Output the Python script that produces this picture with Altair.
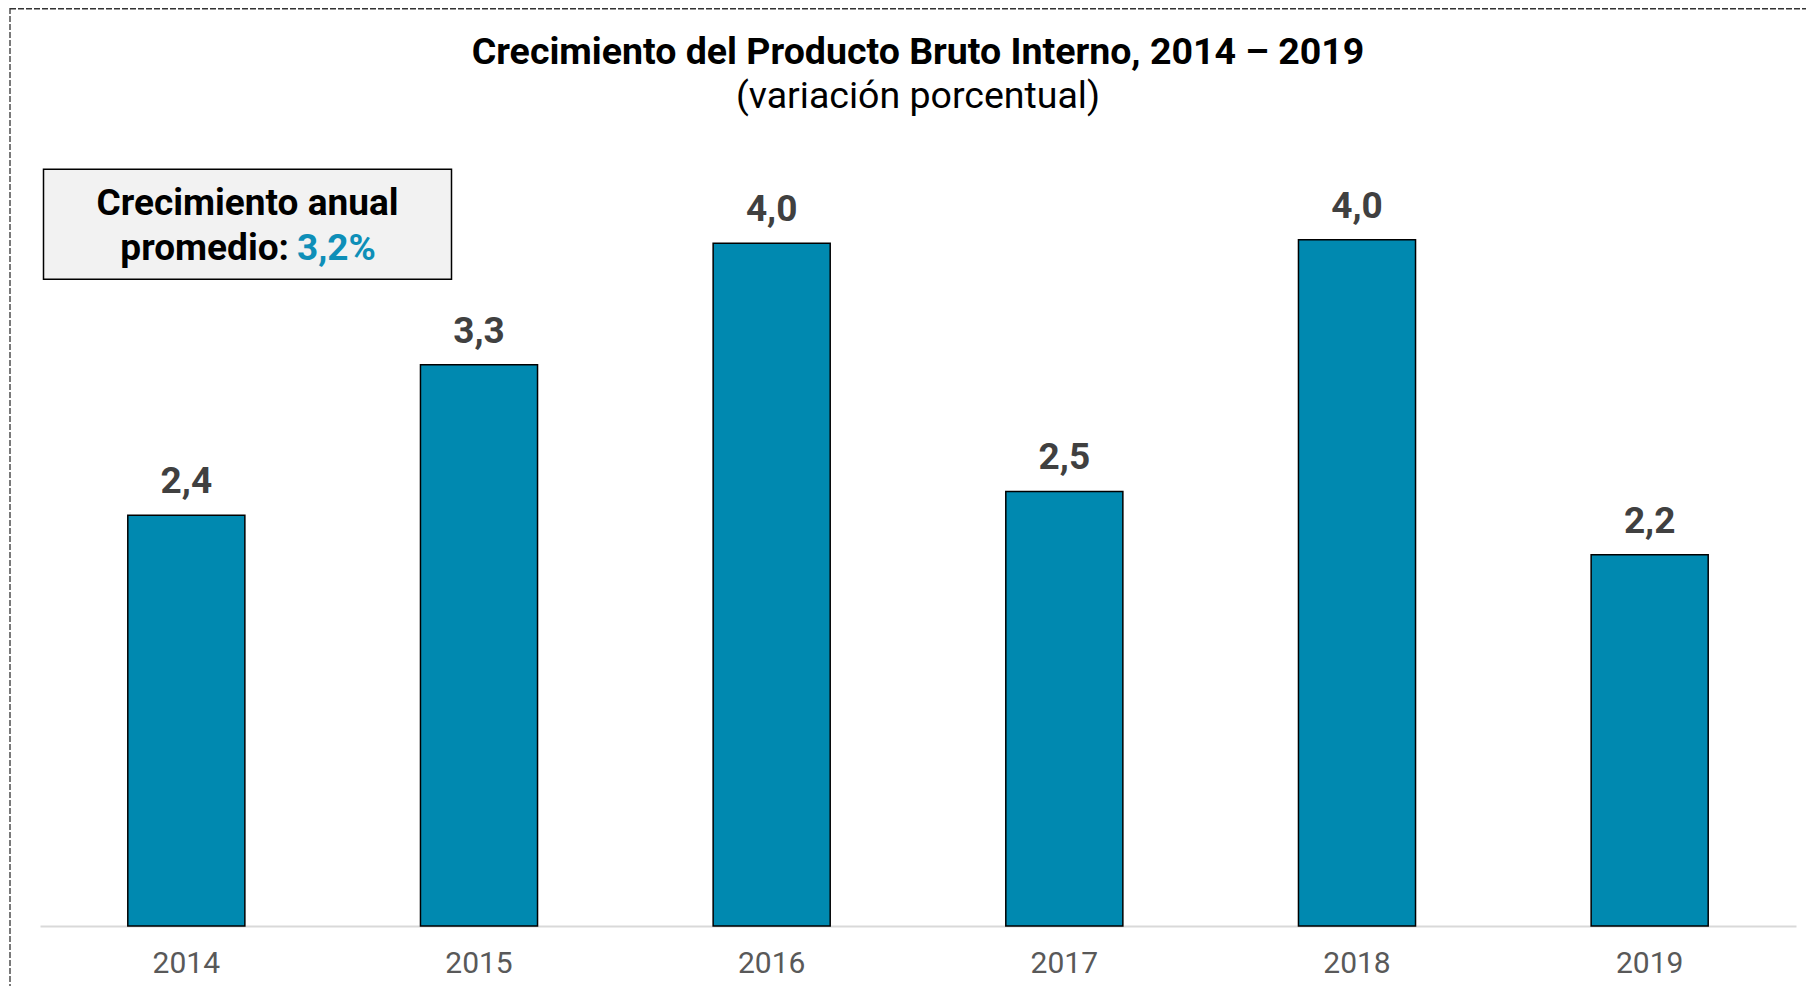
import altair as alt
import pandas as pd

# ---- data ----
years = ["2014", "2015", "2016", "2017", "2018", "2019"]
growth = [2.4, 3.28, 3.99, 2.54, 4.01, 2.17]
value_labels = ["2,4", "3,3", "4,0", "2,5", "4,0", "2,2"]

title_text = "Crecimiento del Producto Bruto Interno, 2014 – 2019"
subtitle_text = "(variación porcentual)"
box_line1 = "Crecimiento anual"
box_line2a = "promedio:"
box_line2b = "3,2%"

df = pd.DataFrame({"year": years, "growth": growth, "label": value_labels})
one = pd.DataFrame({"k": [0]})

BAR = "#0089B0"
FONT = "Roboto"

x = alt.X(
    "year:N",
    sort=years,
    scale=alt.Scale(paddingInner=0.6, paddingOuter=0.3),
    axis=alt.Axis(
        title=None, labelAngle=0, ticks=False, grid=False,
        domainColor="#d9d9d9", domainWidth=2,
        labelFont=FONT, labelFontSize=30, labelColor="#595959", labelPadding=22,
    ),
)
y = alt.Y("growth:Q", scale=alt.Scale(domain=[0, 4.5], nice=False, zero=True), axis=None)

base = alt.Chart(df)
bars = base.mark_bar(color=BAR, stroke="black", strokeWidth=1.5).encode(x=x, y=y)
labels = base.mark_text(
    font=FONT, fontSize=37, fontWeight="bold", color="#404040",
    baseline="alphabetic", dy=-22,
).encode(x=x, y=y, text="label:N")

# title and subtitle
title = alt.Chart(one).mark_text(
    text=title_text, font=FONT, fontSize=37.5, fontWeight="bold", color="black",
    align="center", baseline="alphabetic",
).encode(x=alt.value(878), y=alt.value(-92.5))
subtitle = alt.Chart(one).mark_text(
    text=subtitle_text, font=FONT, fontSize=37.5, fontWeight="normal", color="black",
    align="center", baseline="alphabetic",
).encode(x=alt.value(878), y=alt.value(-48))

# dashed outer frame (top and left edges visible)
frame_top = alt.Chart(one).mark_rule(color="#333333", strokeWidth=1.3, strokeDash=[6, 2]).encode(
    x=alt.value(-30), x2=alt.value(1766), y=alt.value(-147.25)
)
frame_left = alt.Chart(one).mark_rule(color="#333333", strokeWidth=1.3, strokeDash=[6, 2]).encode(
    x=alt.value(-30), y=alt.value(-148), y2=alt.value(830)
)

# annotation box
box = alt.Chart(one).mark_rect(fill="#f2f2f2", stroke="black", strokeWidth=1.5).encode(
    x=alt.value(3.5), x2=alt.value(411.5), y=alt.value(13.3), y2=alt.value(123.3)
)
box_t1 = alt.Chart(one).mark_text(
    text=box_line1, font=FONT, fontSize=37, fontWeight="bold", color="black",
    align="center", baseline="alphabetic",
).encode(x=alt.value(207.5), y=alt.value(59))
box_t2 = alt.Chart(one).mark_text(
    text=box_line2a, font=FONT, fontSize=37, fontWeight="bold", color="black",
    align="right", baseline="alphabetic",
).encode(x=alt.value(249), y=alt.value(104))
box_t3 = alt.Chart(one).mark_text(
    text=box_line2b, font=FONT, fontSize=37, fontWeight="bold", color="#0E8FB8",
    align="left", baseline="alphabetic",
).encode(x=alt.value(257), y=alt.value(104))

chart = alt.layer(
    frame_top, frame_left, title, subtitle, box, box_t1, box_t2, box_t3, bars, labels
).properties(
    width=1756,
    height=770,
    autosize=alt.AutoSizeParams(type="none"),
    padding={"left": 32, "top": 148, "right": 10, "bottom": 60},
).configure_view(stroke=None)

chart.save("out.html", embed_options={"renderer": "svg", "actions": False})
